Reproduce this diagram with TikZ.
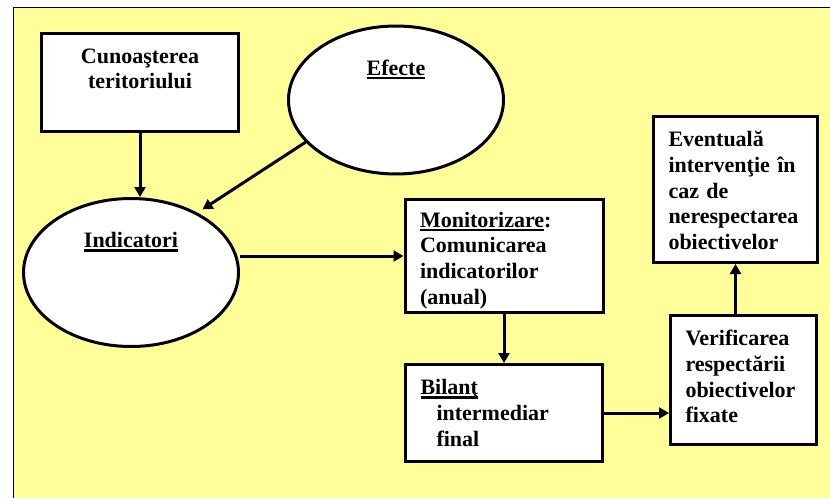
\documentclass[tikz,border=0pt]{standalone}
\usepackage{fontspec}
\setmainfont{Liberation Serif}
\usetikzlibrary{positioning,calc,arrows.meta,shapes}

\definecolor{panelyellow}{HTML}{FFFF99}
\newcommand{\ulword}[1]{\leavevmode\setbox0\hbox{#1}\rlap{\rule[-4.3pt]{\wd0}{2.4pt}}\box0}

\begin{document}
\begin{tikzpicture}[
    x=1pt, y=-1pt,
    font=\fontsize{22}{25.8}\selectfont\bfseries,
    box/.style={rectangle, draw, fill=white, line width=3pt, inner xsep=15pt, inner ysep=0pt, text height=30pt, align=left},
    oval/.style={ellipse, draw, fill=white, line width=3pt, minimum width=215pt, minimum height=148pt, text height=16pt, text depth=66pt},
    flow/.style={->, line width=3pt},
    >={Triangle[length=10pt, width=11pt]}
]
\useasboundingbox (0,0) rectangle (830,498);

% Background
\fill[panelyellow] (13,7) rectangle (830,498);
\draw[line width=1pt] (13,498) -- (13,7) -- (830,7);

% Ovals
\node[oval] (efecte) at (396,100) {\ulword{Efecte}};
\node[oval] (indic) at (131,272.5) {\ulword{Indicatori}};

% Boxes
\node[box, align=center, text width=167pt, text height=29.5pt, text depth=68.5pt] (cunoa) at (140,82.5) {Cunoaşterea\\teritoriului};
\node[box, text width=168pt, text height=27.5pt, text depth=85.5pt] (monit) at (504,256) {\ulword{Monitorizare}:\\Comunicarea\\indicatorilor\\(anual)};
\node[box, text width=167pt, text depth=67pt] (bilant) at (504,413) {\ulword{Bilanţ}\\\hspace*{16pt}intermediar\\\hspace*{16pt}final};
\node[box, text width=116pt, text depth=99pt] (verif) at (743.5,380) {Verificarea\\respectării\\obiectivelor\\fixate};
\node[box, text width=134pt, text depth=116pt] (event) at (735.5,189.5) {Eventuală\\intervenţie în\\caz de\\nerespectarea\\obiectivelor};

% Arrows
\draw[flow] (cunoa) -- (cunoa |- indic.north);
\draw[flow, shorten >=6pt] (efecte.205) -- (indic.42);
\draw[flow] (indic.east |- monit) -- (monit);
\draw[flow] (monit) -- (bilant);
\draw[flow] (bilant.east) -- (bilant.east -| verif.west);
\draw[flow] (verif.north -| event) -- (event);

\end{tikzpicture}
\end{document}
